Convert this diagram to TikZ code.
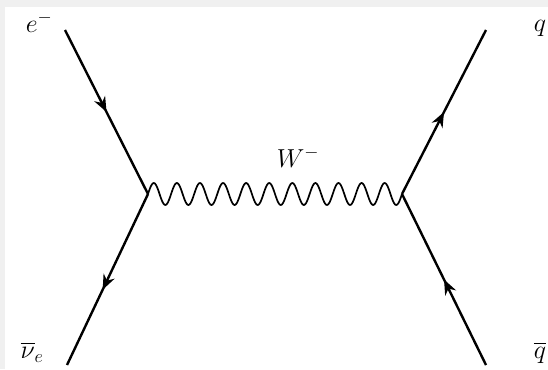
\RequirePackage{fix-cm}
\documentclass[tikz,border=0pt]{standalone}
\usepackage{amsmath}
\usetikzlibrary{arrows.meta,decorations.markings}
\definecolor{framegray}{RGB}{240,240,240}

\begin{document}
\begin{tikzpicture}[x=1pt,y=-1pt,
  fermion/.style={line width=2.4pt,postaction={decorate},
    decoration={markings,mark=at position #1 with {\arrow{Stealth[length=15pt,width=12pt]}}}},
  fermion/.default=0.5,
  boson/.style={line width=1.7pt,line join=round},
  lbl/.style={font=\fontsize{26}{30}\selectfont,inner sep=0pt}]
% frame
\fill[framegray] (0,0) rectangle (548,369);
\fill[white] (5,7) rectangle (548,369);
\useasboundingbox (0,0) rectangle (548,369);
% vertices and outer ends
\coordinate (v1) at (148,194);
\coordinate (v2) at (402,194);
\coordinate (ein) at (65,30);
\coordinate (nuout) at (67,365);
\coordinate (qout) at (486,30);
\coordinate (qbin) at (486,365);
% labels
\node[lbl] (em) at (39,22) {$e^-$};
\node[lbl] (nub) at (32,352) {$\overline{\nu}_e$};
\node[lbl] (q) at (540,28) {$q$};
\node[lbl] (qb) at (540,353) {$\overline{q}$};
\node[lbl] (w) at (298,157) {$W^-$};
% lines
\draw[fermion=0.5] (ein) -- (v1);
\draw[fermion=0.56] (v1) -- (nuout);
\draw[fermion=0.5] (v2) -- (qout);
\draw[fermion=0.5] (qbin) -- (v2);
% W propagator, 11 periods from v1 to v2
\draw[boson,shift={(v1)}] plot[domain=0:254,samples=265,smooth] (\x,{-11*sin(15.5906*\x)});
\end{tikzpicture}
\end{document}
